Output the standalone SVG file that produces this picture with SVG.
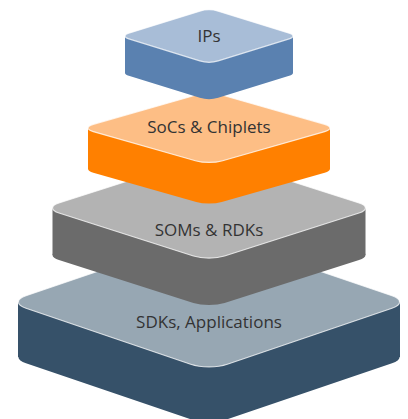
<svg xmlns="http://www.w3.org/2000/svg" width="408" height="419" viewBox="0 0 408 419">
<style>
.lbl{font-family:"Open Sans","Noto Sans","Liberation Sans",sans-serif;font-size:17px;fill:#333;text-anchor:middle}
.edge{stroke:#ffffff;stroke-opacity:0.75;stroke-width:1.2;vector-effect:non-scaling-stroke}
.ips-top{fill:#a8bdd7}.ips-side{fill:#5a81b0}
.soc-top{fill:#fdbe85}.soc-side{fill:#ff8000}
.som-top{fill:#b3b3b3}.som-side{fill:#6b6b6b}
.sdk-top{fill:#97a7b3}.sdk-side{fill:#365169}
</style>
<rect width="408" height="419" fill="#ffffff"/>
<g id="sdks">
  <rect class="sdk-side" transform="translate(209,357) scale(1,0.34) rotate(45)" x="-142.4" y="-142.4" width="284.8" height="284.8" rx="26"/>
  <rect class="sdk-side" x="18" y="302" width="382" height="55"/>
  <rect class="sdk-top edge" transform="translate(209,302) scale(1,0.34) rotate(45)" x="-142.4" y="-142.4" width="284.8" height="284.8" rx="26"/>
  <text class="lbl" x="209" y="328">SDKs, Applications</text>
</g>
<g id="soms">
  <rect class="som-side" transform="translate(209,255) scale(1,0.32) rotate(45)" x="-117.1" y="-117.1" width="234.2" height="234.2" rx="22"/>
  <rect class="som-side" x="52.5" y="208" width="313" height="47"/>
  <rect class="som-top edge" transform="translate(209,208) scale(1,0.32) rotate(45)" x="-117.1" y="-117.1" width="234.2" height="234.2" rx="22"/>
  <text class="lbl" x="209" y="236">SOMs &amp; RDKs</text>
</g>
<g id="socs">
  <rect class="soc-side" transform="translate(209,169) scale(1,0.285) rotate(45)" x="-90.8" y="-90.8" width="181.6" height="181.6" rx="18"/>
  <rect class="soc-side" x="88" y="128" width="242" height="41"/>
  <rect class="soc-top edge" transform="translate(209,128) scale(1,0.285) rotate(45)" x="-90.8" y="-90.8" width="181.6" height="181.6" rx="18"/>
  <text class="lbl" x="209" y="133">SoCs &amp; Chiplets</text>
</g>
<g id="ips">
  <rect class="ips-side" transform="translate(209,73) scale(1,0.31) rotate(45)" x="-63.2" y="-63.2" width="126.4" height="126.4" rx="13"/>
  <rect class="ips-side" x="125" y="36" width="168" height="37"/>
  <rect class="ips-top edge" transform="translate(209,36) scale(1,0.31) rotate(45)" x="-63.2" y="-63.2" width="126.4" height="126.4" rx="13"/>
  <text class="lbl" x="209" y="42">IPs</text>
</g>
<g id="connectors"/>
</svg>
